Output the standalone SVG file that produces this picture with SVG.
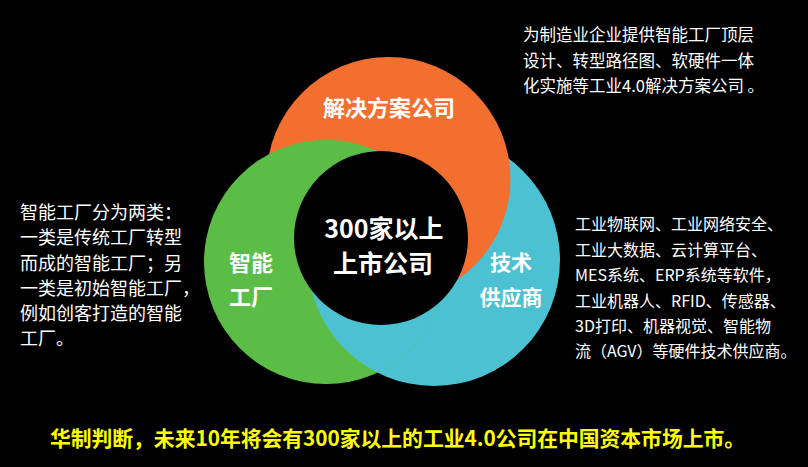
<svg xmlns="http://www.w3.org/2000/svg" width="808" height="467" viewBox="0 0 808 467">
<style>
.lbl{font-family:"Noto Sans CJK SC","Noto Sans",sans-serif;font-weight:bold;fill:#ffffff;text-anchor:middle}
.body{font-family:"Noto Sans CJK SC","Noto Sans",sans-serif;fill:#ffffff}
.note{font-family:"Noto Sans CJK SC","Noto Sans",sans-serif;font-weight:bold;fill:#ffff00}
</style>
<defs>
<clipPath id="clipGreen"><circle cx="326" cy="262" r="122"/></clipPath>
</defs>
<rect x="0" y="0" width="808" height="467" fill="#000000"/>
<g id="supplier">
<circle cx="434" cy="260" r="126" fill="#4cc1d2"/>
</g>
<g id="solution">
<circle cx="388.5" cy="179" r="122" fill="#f36f30"/>
<text class="lbl" x="389" y="116" font-size="22">解决方案公司</text>
</g>
<g id="factory">
<circle cx="326" cy="262" r="122" fill="#5bbd45"/>
</g>
<g id="supplier-overlap">
<circle cx="434" cy="260" r="126" fill="#4cc1d2" clip-path="url(#clipGreen)"/>
</g>
<g id="factory-label">
<text class="lbl" x="251" y="271" font-size="22">智能</text>
<text class="lbl" x="251" y="305" font-size="22">工厂</text>
</g>
<g id="supplier-label">
<text class="lbl" x="511" y="270" font-size="21">技术</text>
<text class="lbl" x="511" y="305" font-size="21">供应商</text>
</g>
<g id="center">
<circle cx="381" cy="238" r="87" fill="#000000"/>
<text class="lbl" x="384" y="238" font-size="25">300家以上</text>
<text class="lbl" x="383" y="273" font-size="25">上市公司</text>
</g>
<g id="solution-desc">
<text class="body" x="523" y="41" font-size="16.5">为制造业企业提供智能工厂顶层</text>
<text class="body" x="523" y="66.5" font-size="16.5">设计、转型路径图、软硬件一体</text>
<text class="body" x="523" y="92" font-size="16.5">化实施等工业4.0解决方案公司 。</text>
</g>
<g id="factory-desc">
<text class="body" x="20" y="219" font-size="18">智能工厂分为两类：</text>
<text class="body" x="20" y="244" font-size="18">一类是传统工厂转型</text>
<text class="body" x="20" y="270" font-size="18">而成的智能工厂；另</text>
<text class="body" x="20" y="295" font-size="18">一类是初始智能工厂，</text>
<text class="body" x="20" y="320" font-size="18">例如创客打造的智能</text>
<text class="body" x="20" y="345" font-size="18">工厂。</text>
</g>
<g id="supplier-desc">
<text class="body" x="575" y="230" font-size="16">工业物联网、工业网络安全、</text>
<text class="body" x="575" y="256" font-size="16">工业大数据、云计算平台、</text>
<text class="body" x="575" y="281" font-size="16">MES系统、ERP系统等软件，</text>
<text class="body" x="575" y="307" font-size="16">工业机器人、RFID、传感器、</text>
<text class="body" x="575" y="332" font-size="16">3D打印、机器视觉、智能物</text>
<text class="body" x="575" y="357" font-size="16">流（AGV）等硬件技术供应商。</text>
</g>
<g id="conclusion">
<text class="note" x="50" y="446" font-size="21" textLength="695" lengthAdjust="spacingAndGlyphs">华制判断，未来10年将会有300家以上的工业4.0公司在中国资本市场上市。</text>
</g>
</svg>
